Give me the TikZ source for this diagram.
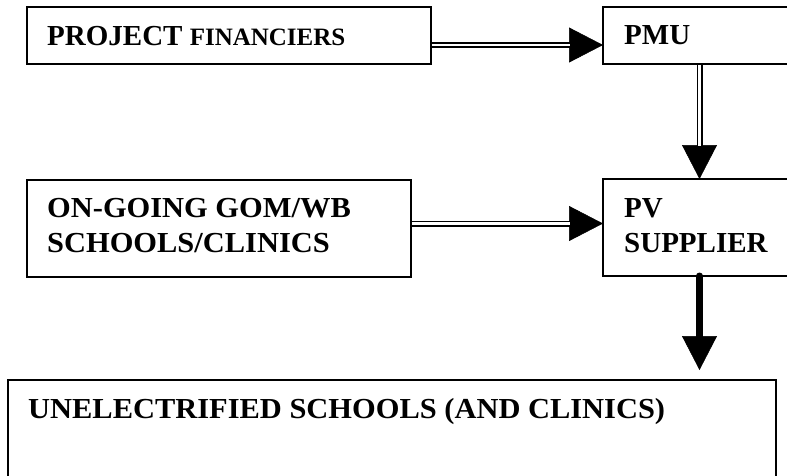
\documentclass[tikz,border=0pt]{standalone}
\usepackage{fontspec}
\setmainfont{Liberation Serif}
\newfontfamily\widefont{Liberation Serif}[FakeStretch=1.05]
\usetikzlibrary{arrows.meta}
\begin{document}
\begin{tikzpicture}[x=1pt,y=-1pt,
  box/.style={draw, line width=1.6pt, rectangle, inner sep=0pt, outer sep=0pt},
  lbl/.style={anchor=base west, inner sep=0pt, font=\fontsize{29}{35}\selectfont\bfseries},
  dbl/.style={draw, double=white, line width=1.9pt, double distance=2.2pt},
  head/.style={line width=0.5pt, -{Triangle[length=34pt,width=35pt]}},
  fat/.style={line width=7pt, line cap=round}]
\useasboundingbox (0,0) rectangle (787,475);
\fill[white] (0,0) rectangle (787,475);
\clip (0,0) rectangle (787,475);
% boxes
\node[box, minimum width=404pt, minimum height=57pt] (fin) at (229,35.5) {};
\node[box, minimum width=193pt, minimum height=57pt] (pmu) at (699.5,35.5) {};
\node[box, minimum width=384pt, minimum height=97pt] (ongo) at (219,228.5) {};
\node[box, minimum width=193pt, minimum height=97pt] (pv) at (699.5,227.5) {};
\node[box, minimum width=768pt, minimum height=120pt] (bot) at (392,440) {};
% texts
\node[lbl] (tfin) at (47,45) {PROJECT {\fontsize{25}{30}\selectfont FINANCIERS}};
\node[lbl] (tpmu) at (624,44) {PMU};
\node[lbl] (tgo1) at (47,217) {\widefont ON-GOING GOM/WB};
\node[lbl] (tgo2) at (47,252) {\widefont SCHOOLS/CLINICS};
\node[lbl] (tpv1) at (624,217) {PV};
\node[lbl] (tpv2) at (624,252) {SUPPLIER};
\node[lbl] (tbot) at (28,418) {\widefont UNELECTRIFIED SCHOOLS (AND CLINICS)};
% connectors
\coordinate (ya) at (0,45);
\coordinate (yb) at (0,223.5);
\draw[head] (fin.east |- ya) -- (pmu.west |- ya);
\draw[dbl, shorten <=0.8pt, shorten >=33pt] (fin.east |- ya) -- (pmu.west |- ya);
\draw[head] (pmu.south) -- (pv.north);
\draw[dbl, shorten <=0.8pt, shorten >=33pt] (pmu.south) -- (pv.north);
\draw[head] (ongo.east |- yb) -- (pv.west |- yb);
\draw[dbl, shorten <=0.8pt, shorten >=33pt] (ongo.east |- yb) -- (pv.west |- yb);
\draw[head, shorten >=10pt] (pv.south) -- (pv.south |- bot.north);
\draw[fat, shorten >=40pt] (pv.south) -- (pv.south |- bot.north);
\end{tikzpicture}
\end{document}
